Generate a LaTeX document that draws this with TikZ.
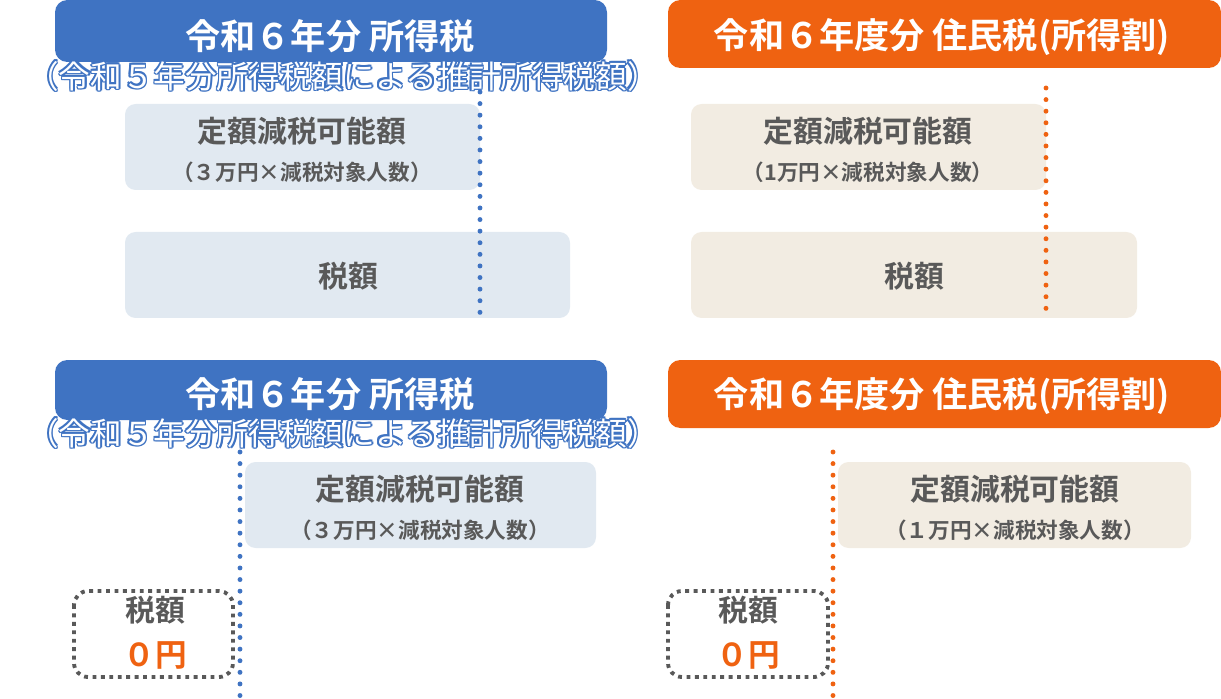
\documentclass[tikz,border=0pt]{standalone}
\usepackage{fontspec}
\usetikzlibrary{calc}
\setmainfont{Noto Sans CJK JP}[BoldFont={* Bold}]
\definecolor{hblue}{HTML}{3F73C2}
\definecolor{horange}{HTML}{EF6211}
\definecolor{lblue}{HTML}{E1E9F1}
\definecolor{lbeige}{HTML}{F2ECE2}
\definecolor{tgray}{HTML}{595959}
\begin{document}
\begin{tikzpicture}[x=0.02cm,y=-0.02cm,
  hdr/.style={rounded corners=7pt},
  ttl/.style={text=white,font=\bfseries\fontsize{20}{20}\selectfont},
  bx/.style={rounded corners=6pt},
  big/.style={text=tgray,font=\bfseries\fontsize{17}{17}\selectfont},
  sml/.style={text=tgray,font=\bfseries\fontsize{12.3}{12}\selectfont},
  dotl/.style={line width=2.8pt,dash pattern=on 0pt off 6.6pt,line cap=round},
  zbox/.style={draw=tgray,line width=2.2pt,dash pattern=on 2.2pt off 2.6pt,rounded corners=8pt},
  zero/.style={text=horange,font=\bfseries\fontsize{18}{18}\selectfont}]
\useasboundingbox (0,0) rectangle (1221,699);
\newcommand{\subt}[2]{%
  \foreach \dx/\dy in {-1.7/0,1.7/0,0/-1.7,0/1.7,-1.2/-1.2,1.2/1.2,-1.2/1.2,1.2/-1.2}
    \node[text=hblue,font=\fontsize{18}{18}\selectfont] at ($(#1)+(\dx,\dy)$) {#2};
  \node[text=white,font=\fontsize{18}{18}\selectfont] at (#1) {#2};}
% top left
\fill[hblue,hdr] (55,0) rectangle (607,62);
\node[ttl] (t1) at (330,36) {令和６年分\ 所得税};
\fill[lblue,bx] (125,104) rectangle (480,190);
\fill[lblue,bx] (125,232) rectangle (570,318);
\node[big] (a1) at (302,131) {定額減税可能額};
\node[sml] (b1) at (302,172) {（３万円×減税対象人数）};
\node[big] (c1) at (348,276) {税額};
\coordinate (l1a) at (480,92); \coordinate (l1b) at (480,318);
\draw[hblue,dotl] (l1a) -- (l1b);
% top right
\fill[horange,hdr] (668,0) rectangle (1221,68);
\node[ttl] (t2) at (942,37) {令和６年度分\ 住民税(所得割)};
\fill[lbeige,bx] (691,104) rectangle (1046,190);
\fill[lbeige,bx] (691,232) rectangle (1137,318);
\node[big] (a2) at (868,131) {定額減税可能額};
\node[sml] (b2) at (868,172) {（1万円×減税対象人数）};
\node[big] (c2) at (914,276) {税額};
\coordinate (l2a) at (1046,88); \coordinate (l2b) at (1046,318);
\draw[horange,dotl] (l2a) -- (l2b);
% bottom left
\fill[hblue,hdr] (55,360) rectangle (607,420);
\node[ttl] (t3) at (330,394) {令和６年分\ 所得税};
\fill[lblue,bx] (245,462) rectangle (596,548);
\node[big] (a3) at (420,489) {定額減税可能額};
\node[sml] (b3) at (420,530) {（３万円×減税対象人数）};
\coordinate (l3a) at (240,452); \coordinate (l3b) at (240,699);
\draw[hblue,dotl] (l3a) -- (l3b);
\draw[zbox] (74,591) rectangle (233,677);
\node[big] (c3) at (155,610) {税額};
\node[zero] (z3) at (155,655) {０円};
% bottom right
\fill[horange,hdr] (668,360) rectangle (1221,428);
\node[ttl] (t4) at (942,396) {令和６年度分\ 住民税(所得割)};
\fill[lbeige,bx] (838,462) rectangle (1191,548);
\node[big] (a4) at (1015,489) {定額減税可能額};
\node[sml] (b4) at (1015,530) {（１万円×減税対象人数）};
\coordinate (l4a) at (833,452); \coordinate (l4b) at (833,699);
\draw[horange,dotl] (l4a) -- (l4b);
\draw[zbox] (668,591) rectangle (828,677);
\node[big] (c4) at (748,610) {税額};
\node[zero] (z4) at (748,655) {０円};
% subtitles
\coordinate (s1) at (343,76); \coordinate (s3) at (343,433);
\subt{s1}{（令和５年分所得税額による推計所得税額）}
\subt{s3}{（令和５年分所得税額による推計所得税額）}
\end{tikzpicture}
\end{document}
